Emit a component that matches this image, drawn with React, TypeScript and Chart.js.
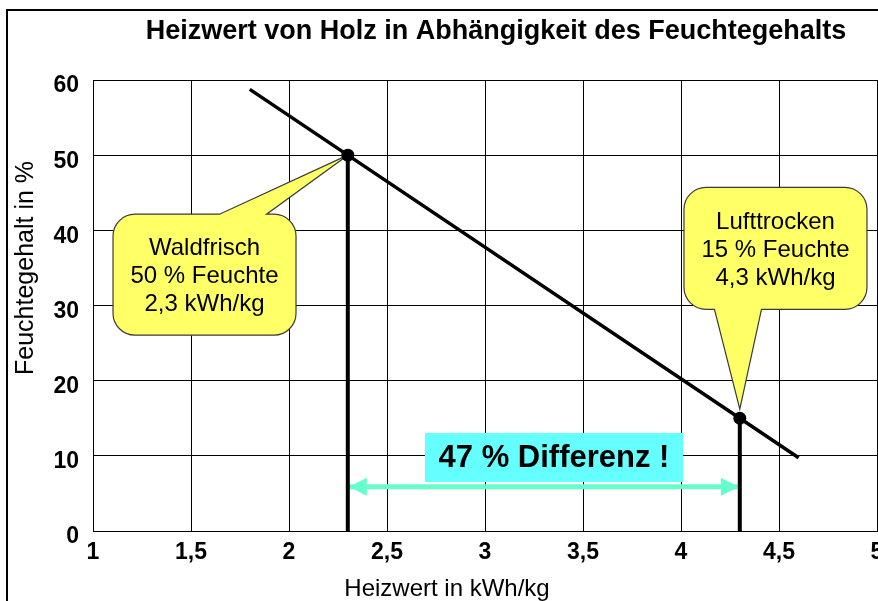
import React, { useEffect, useRef } from 'react';
import { Chart, registerables } from 'chart.js';

Chart.register(...registerables);

// ---------- data ----------
const chartTitle = 'Heizwert von Holz in Abhängigkeit des Feuchtegehalts';
const xAxisTitle = 'Heizwert in kWh/kg';
const yAxisTitle = 'Feuchtegehalt in %';

const xTickValues = [1, 1.5, 2, 2.5, 3, 3.5, 4, 4.5, 5];
const xTickLabels = ['1', '1,5', '2', '2,5', '3', '3,5', '4', '4,5', '5'];
const yTickValues = [0, 10, 20, 30, 40, 50, 60];
const yTickLabels = ['0', '10', '20', '30', '40', '50', '60'];

// main line: Heizwert (kWh/kg) vs Feuchtegehalt (%)
const heizwert = [1.8, 2.3, 4.3, 4.6];
const feuchte = [58.75, 50, 15, 9.75];
const markerRadii = [0, 6.5, 6.5, 0];

const waldfrisch = { x: 2.3, y: 50 };
const lufttrocken = { x: 4.3, y: 15 };

const calloutWaldLines = ['Waldfrisch', '50 % Feuchte', '2,3 kWh/kg'];
const calloutLuftLines = ['Lufttrocken', '15 % Feuchte', '4,3 kWh/kg'];
const calloutWaldCenter = { x: 1.569, y: 34.1 };
const calloutLuftCenter = { x: 4.482, y: 37.6 };

const differenzLabel = '47 % Differenz !';
const differenzCenter = { x: 3.352, y: 9.78 };
const arrowY = 5.9;

const FONT = '"Liberation Sans", Arial, Helvetica, sans-serif';

function calloutPath(ctx: CanvasRenderingContext2D, l: number, t: number, w: number, h: number, r: number, ptr: any) {
  const R = l + w, B = t + h;
  ctx.beginPath();
  ctx.moveTo(l + r, t);
  if (ptr.side === 'top') {
    ctx.lineTo(ptr.a, t);
    ctx.lineTo(ptr.tx, ptr.ty);
    ctx.lineTo(ptr.b, t);
  }
  ctx.lineTo(R - r, t);
  ctx.arcTo(R, t, R, t + r, r);
  ctx.lineTo(R, B - r);
  ctx.arcTo(R, B, R - r, B, r);
  if (ptr.side === 'bottom') {
    ctx.lineTo(ptr.b, B);
    ctx.lineTo(ptr.tx, ptr.ty);
    ctx.lineTo(ptr.a, B);
  }
  ctx.lineTo(l + r, B);
  ctx.arcTo(l, B, l, B - r, r);
  ctx.lineTo(l, t + r);
  ctx.arcTo(l, t, l + r, t, r);
  ctx.closePath();
}

function drawCallout(ctx: CanvasRenderingContext2D, cx: number, cy: number, w: number, h: number, lines: string[], ptr: any, textDy: number) {
  const l = cx - w / 2, t = cy - h / 2;
  ctx.save();
  calloutPath(ctx, l, t, w, h, 22, ptr);
  ctx.fillStyle = '#FFFF66';
  ctx.fill();
  ctx.strokeStyle = '#3a3a3a';
  ctx.lineWidth = 1.2;
  ctx.stroke();
  ctx.fillStyle = '#000';
  ctx.font = `24px ${FONT}`;
  ctx.textAlign = 'center';
  ctx.textBaseline = 'middle';
  const lh = 28;
  lines.forEach((s, i) => {
    ctx.fillText(s, cx, cy + textDy + (i - 1) * lh);
  });
  ctx.restore();
}

const annotationPlugin = {
  id: 'annotations',
  beforeDraw(chart: any) {
    const { ctx, width, height } = chart;
    ctx.save();
    ctx.fillStyle = '#fff';
    ctx.fillRect(0, 0, width, height);
    ctx.restore();
  },
  beforeDatasetsDraw(chart: any) {
    const { ctx } = chart;
    const xs = chart.scales.x, ys = chart.scales.y;
    // Waldfrisch callout
    const wcx = xs.getPixelForValue(calloutWaldCenter.x);
    const wcy = ys.getPixelForValue(calloutWaldCenter.y);
    drawCallout(ctx, wcx, wcy, 183, 121, calloutWaldLines, {
      side: 'top', a: wcx + 15, b: wcx + 62,
      tx: xs.getPixelForValue(waldfrisch.x), ty: ys.getPixelForValue(waldfrisch.y),
    }, 2);
    // Lufttrocken callout
    const lcx = xs.getPixelForValue(calloutLuftCenter.x);
    const lcy = ys.getPixelForValue(calloutLuftCenter.y);
    drawCallout(ctx, lcx, lcy, 183, 122, calloutLuftLines, {
      side: 'bottom', a: lcx - 61, b: lcx - 14,
      tx: xs.getPixelForValue(lufttrocken.x), ty: ys.getPixelForValue(lufttrocken.y) - 9,
    }, 2);
    // Differenz label box
    const dcx = xs.getPixelForValue(differenzCenter.x);
    const dcy = ys.getPixelForValue(differenzCenter.y);
    ctx.save();
    ctx.fillStyle = '#66FFFF';
    ctx.fillRect(dcx - 129, dcy - 24.5, 258, 49);
    ctx.fillStyle = '#000';
    ctx.font = `bold 31px ${FONT}`;
    ctx.textAlign = 'center';
    ctx.textBaseline = 'middle';
    ctx.fillText(differenzLabel, dcx, dcy + 1);
    ctx.restore();
    // arrow heads
    const ay = ys.getPixelForValue(arrowY);
    const ax1 = xs.getPixelForValue(waldfrisch.x) + 1;
    const ax2 = xs.getPixelForValue(lufttrocken.x) - 1;
    ctx.save();
    ctx.fillStyle = '#66FFCC';
    ctx.beginPath();
    ctx.moveTo(ax1, ay);
    ctx.lineTo(ax1 + 18, ay - 9);
    ctx.lineTo(ax1 + 18, ay + 9);
    ctx.closePath();
    ctx.fill();
    ctx.beginPath();
    ctx.moveTo(ax2, ay);
    ctx.lineTo(ax2 - 18, ay - 9);
    ctx.lineTo(ax2 - 18, ay + 9);
    ctx.closePath();
    ctx.fill();
    ctx.restore();
  },
  afterDraw(chart: any) {
    const { ctx } = chart;
    ctx.save();
    // outer frame
    ctx.strokeStyle = '#000';
    ctx.lineWidth = 2;
    ctx.beginPath();
    ctx.moveTo(7, 601);
    ctx.lineTo(7, 10);
    ctx.lineTo(878, 10);
    ctx.stroke();
    // title
    ctx.fillStyle = '#000';
    ctx.font = `bold 27px ${FONT}`;
    ctx.textAlign = 'center';
    ctx.textBaseline = 'middle';
    ctx.fillText(chartTitle, 496, 32);
    // x axis title
    ctx.font = `24px ${FONT}`;
    ctx.textBaseline = 'alphabetic';
    ctx.fillText(xAxisTitle, 447, 596);
    // y axis title
    ctx.translate(33, 268);
    ctx.rotate(-Math.PI / 2);
    ctx.font = `25px ${FONT}`;
    ctx.fillText(yAxisTitle, 0, 0);
    ctx.restore();
  },
};

export default function App() {
  const ref = useRef<HTMLCanvasElement | null>(null);
  useEffect(() => {
    if (!ref.current) return;
    const chart = new Chart(ref.current, {
      type: 'line',
      data: {
        datasets: [
          {
            data: heizwert.map((x, i) => ({ x, y: feuchte[i] })),
            borderColor: '#000',
            borderWidth: 3.5,
            pointRadius: markerRadii,
            pointHoverRadius: markerRadii,
            pointBackgroundColor: '#000',
            pointBorderColor: '#000',
            pointBorderWidth: 0,
            tension: 0,
          },
          {
            data: [{ x: waldfrisch.x, y: 0 }, { x: waldfrisch.x, y: waldfrisch.y }],
            borderColor: '#000',
            borderWidth: 4,
            pointRadius: 0,
          },
          {
            data: [{ x: lufttrocken.x, y: 0 }, { x: lufttrocken.x, y: lufttrocken.y }],
            borderColor: '#000',
            borderWidth: 4,
            pointRadius: 0,
          },
          {
            data: [{ x: waldfrisch.x, y: arrowY }, { x: lufttrocken.x, y: arrowY }],
            borderColor: '#66FFCC',
            borderWidth: 5,
            pointRadius: 0,
          },
        ],
      },
      options: {
        responsive: false,
        animation: false,
        devicePixelRatio: 1,
        layout: { padding: { top: 80, right: 1, left: 0, bottom: 0 } },
        plugins: { legend: { display: false }, title: { display: false }, tooltip: { enabled: false } },
        events: [],
        scales: {
          x: {
            type: 'linear',
            min: 1,
            max: 5,
            afterBuildTicks: (s: any) => { s.ticks = xTickValues.map((v) => ({ value: v })); },
            afterFit: (s: any) => { s.height = 70; s.paddingLeft = 0; s.paddingRight = 0; },
            ticks: {
              callback: (v: any) => { const i = xTickValues.indexOf(Number(v)); return i >= 0 ? xTickLabels[i] : ''; },
              color: '#000',
              font: { family: FONT, size: 23, weight: 'bold' },
              padding: 8,
              maxRotation: 0,
              autoSkip: false,
            },
            grid: { color: '#000', lineWidth: 1, drawTicks: false },
            border: { display: true, color: '#000', width: 1 },
          },
          y: {
            type: 'linear',
            min: 0,
            max: 60,
            afterBuildTicks: (s: any) => { s.ticks = yTickValues.map((v) => ({ value: v })); },
            afterFit: (s: any) => { s.width = 93; s.paddingTop = 0; s.paddingBottom = 0; },
            ticks: {
              callback: (v: any) => { const i = yTickValues.indexOf(Number(v)); return i >= 0 ? yTickLabels[i] : ''; },
              color: '#000',
              font: { family: FONT, size: 23, weight: 'bold' },
              padding: 14,
              labelOffset: 6,
              autoSkip: false,
            },
            grid: { color: '#000', lineWidth: 1, drawTicks: false },
            border: { display: true, color: '#000', width: 1 },
          },
        },
      },
      plugins: [annotationPlugin],
    } as any);
    return () => chart.destroy();
  }, []);
  return (
    <div style={{ position: 'fixed', left: 0, top: 0, width: 878, height: 601, overflow: 'hidden', background: '#fff' }}>
      <canvas ref={ref} width={878} height={601} style={{ display: 'block' }} />
    </div>
  );
}
